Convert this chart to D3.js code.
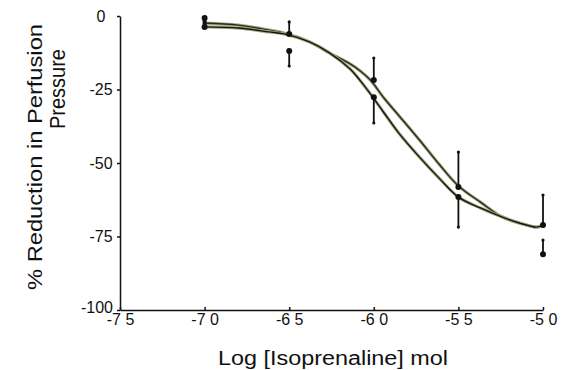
<!DOCTYPE html>
<html>
<head>
<meta charset="utf-8">
<script src="https://cdn.jsdelivr.net/npm/d3@7"></script>
<style>
  body { margin: 0; background: #fff; }
  svg { display: block; font-family: "Liberation Sans", Arial, sans-serif; }
</style>
</head>
<body>
<div id="chart"></div>
<script>
// axis ticks
const xTicks = [-7.5, -7.0, -6.5, -6.0, -5.5, -5.0];
const xTickLabels = ["-7 5", "-7 0", "-6 5", "-6 0", "-5 5", "-5 0"];
const yTicks = [0, -25, -50, -75, -100];
const yTickLabels = ["0", "-25", "-50", "-75", "-100"];

// measured points (mean + end of the one-sided error bar)
const doses = [-7.0, -6.5, -6.0, -5.5, -5.0];
const meanA = [-0.7, -6.1, -21.8, -58.2, -71.1];
const barEndA = [-3.0, -2.0, -14.3, -46.3, -60.9];
const meanB = [-3.7, -11.9, -27.6, -61.6, -81.0];
const barEndB = [null, -17.0, -36.4, -71.8, -76.2];

// fitted curves
const fitDose = [-7.00, -6.80, -6.62, -6.53, -6.38, -6.26, -6.14, -6.08, -6.02, -5.94, -5.85, -5.73, -5.61, -5.50, -5.37, -5.24, -5.14, -5.04, -5.00];
const fitA = [-2.4, -3.1, -4.8, -5.8, -8.8, -12.6, -16.3, -18.7, -21.8, -27.9, -34.0, -42.2, -50.7, -57.8, -63.3, -68.4, -70.4, -71.8, -71.2];
const fitB = [-3.7, -4.1, -5.4, -6.1, -8.8, -12.6, -18.0, -22.0, -26.5, -32.9, -40.0, -48.0, -55.4, -61.6, -65.3, -68.4, -70.4, -71.8, -71.2];

const W = 568, H = 370;
const x = d3.scaleLinear().domain([-7.5, -5.0]).range([120, 543]);
const y = d3.scaleLinear().domain([0, -100]).range([16, 310]);

const svg = d3.select('#chart').append('svg')
  .attr('width', W)
  .attr('height', H);

// axes
const xAxis = svg.append('g')
  .attr('transform', `translate(0,${y(-100)})`)
  .call(d3.axisBottom(x).tickValues(xTicks)
    .tickFormat((d, i) => xTickLabels[i])
    .tickSizeInner(-3).tickSizeOuter(0).tickPadding(3));
xAxis.select('.domain').attr('stroke', '#111').attr('stroke-width', 1.5);
xAxis.selectAll('.tick line').attr('stroke', '#111').attr('stroke-width', 1.5);
xAxis.selectAll('.tick text')
  .attr('fill', '#111')
  .style('font-size', '16px')
  .attr('dy', '0.75em');

const yAxis = svg.append('g')
  .attr('transform', `translate(${x(-7.5)},0)`)
  .call(d3.axisLeft(y).tickValues(yTicks)
    .tickFormat((d, i) => yTickLabels[i])
    .tickSizeInner(3).tickSizeOuter(0).tickPadding(0));
yAxis.select('.domain').attr('stroke', '#111').attr('stroke-width', 1.5);
yAxis.selectAll('.tick line').attr('stroke', '#111').attr('stroke-width', 1.5);
yAxis.selectAll('.tick text')
  .attr('fill', '#111')
  .style('font-size', '16px')
  .attr('text-anchor', 'middle')
  .attr('x', d => d === -100 ? -23 : -19)
  .attr('dy', d => d === -100 ? '0.15em' : '0.32em');

// fitted curves: light olive halo under a dark line
const line = d3.line()
  .x(d => x(d[0]))
  .y(d => y(d[1]))
  .curve(d3.curveCatmullRom);

[fitA, fitB].forEach((vals, k) => {
  const pts = fitDose.map((d, i) => [d, vals[i]]);
  svg.append('path')
    .attr('d', line(pts))
    .attr('fill', 'none')
    .attr('stroke', '#a7aa84')
    .attr('stroke-width', 3.2);
  svg.append('path')
    .attr('d', line(pts))
    .attr('fill', 'none')
    .attr('stroke', k === 0 ? '#2a2b1c' : '#151510')
    .attr('stroke-width', 1.4);
});

// error bars and points
function drawSeries(means, ends) {
  const g = svg.append('g');
  doses.forEach((d, i) => {
    if (ends[i] == null) return;
    g.append('line')
      .attr('x1', x(d)).attr('x2', x(d))
      .attr('y1', y(means[i])).attr('y2', y(ends[i]))
      .attr('stroke', '#111')
      .attr('stroke-width', i === 0 ? 4 : 1.8);
    g.append('circle')
      .attr('cx', x(d)).attr('cy', y(ends[i]))
      .attr('r', 1.6)
      .attr('fill', '#111');
  });
  g.selectAll('circle.pt')
    .data(doses)
    .join('circle')
    .attr('class', 'pt')
    .attr('cx', d => x(d))
    .attr('cy', (d, i) => y(means[i]))
    .attr('r', 3)
    .attr('fill', '#111');
}
drawSeries(meanA, barEndA);
drawSeries(meanB, barEndB);

// axis titles
svg.append('text')
  .attr('x', 333)
  .attr('y', 365)
  .attr('text-anchor', 'middle')
  .attr('fill', '#111')
  .style('font-size', '20px')
  .attr('textLength', 230)
  .attr('lengthAdjust', 'spacingAndGlyphs')
  .text('Log [Isoprenaline] mol');

svg.append('text')
  .attr('transform', 'translate(42,157) rotate(-90)')
  .attr('text-anchor', 'middle')
  .attr('fill', '#111')
  .style('font-size', '21px')
  .attr('textLength', 266)
  .attr('lengthAdjust', 'spacingAndGlyphs')
  .text('% Reduction in Perfusion');

svg.append('text')
  .attr('transform', 'translate(65,89) rotate(-90)')
  .attr('text-anchor', 'middle')
  .attr('fill', '#111')
  .style('font-size', '22px')
  .attr('textLength', 80)
  .attr('lengthAdjust', 'spacingAndGlyphs')
  .text('Pressure');
</script>
</body>
</html>
